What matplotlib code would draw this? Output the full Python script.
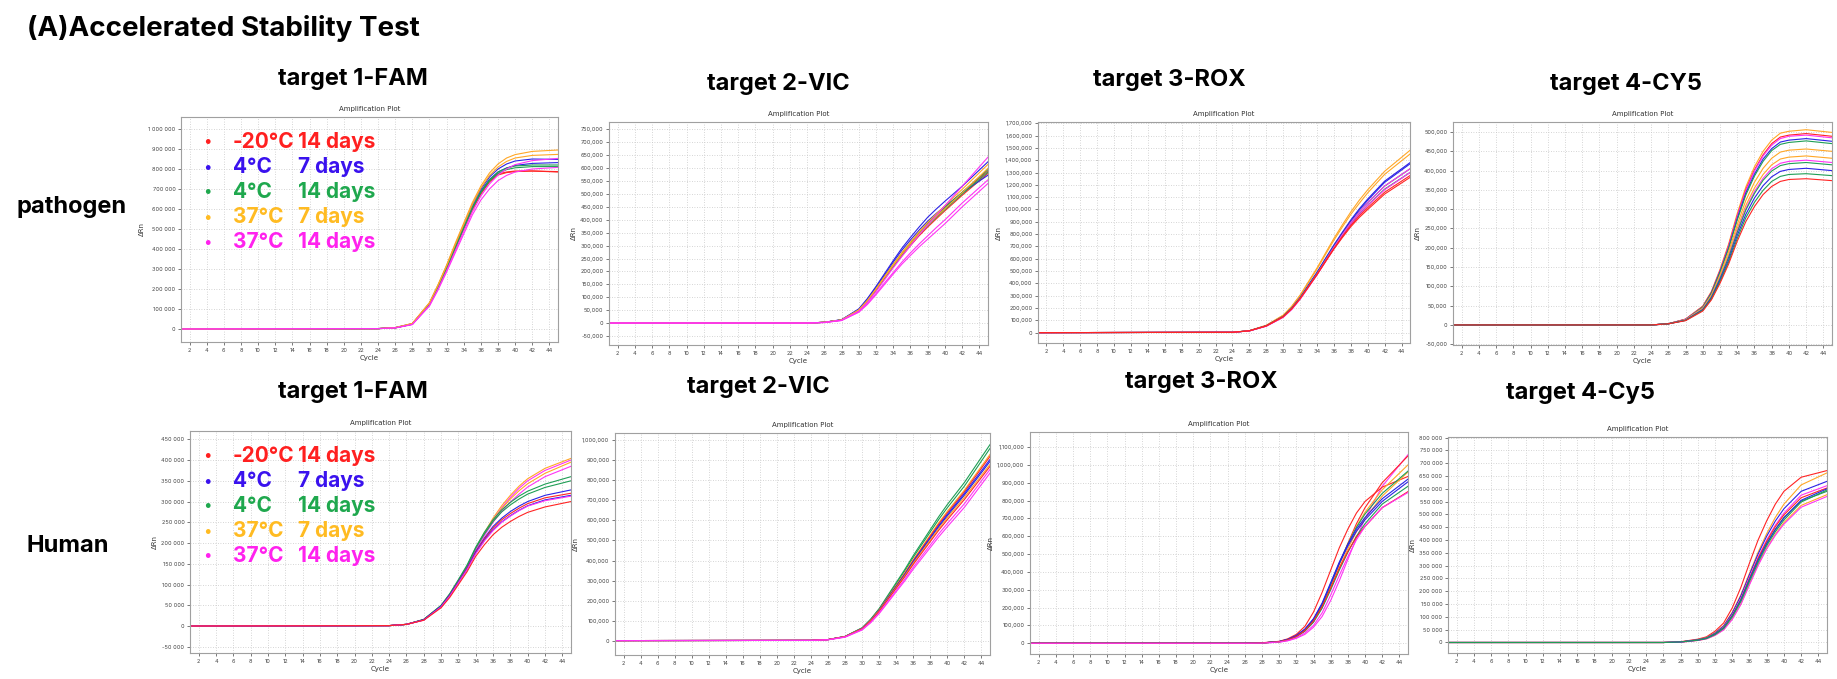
import matplotlib
matplotlib.use("Agg")
import matplotlib.pyplot as plt
from matplotlib.ticker import FuncFormatter, MultipleLocator

# ---- data: ΔRn in thousands ----
cycles = [1, 24, 26, 28, 30, 31, 32, 33, 34, 35, 36, 37, 38, 39, 40, 42, 45]

temps = ['-20°C', '4°C', '4°C', '37°C', '37°C']
durations = ['14 days', '7 days', '14 days', '7 days', '14 days']

# pathogen - target 1-FAM
path_fam_cond = [0, 0, 1, 1, 2, 2, 3, 3, 4, 4]
path_fam = [
    [0, 2, 6, 25, 125, 210, 305, 405, 505, 600, 680, 740, 775, 785, 790, 790, 785],
    [0, 2, 6, 24, 122, 205, 300, 400, 500, 595, 675, 735, 770, 782, 787, 790, 787],
    [0, 2, 7, 27, 130, 218, 315, 420, 520, 620, 700, 760, 800, 825, 840, 850, 848],
    [0, 2, 6, 25, 126, 212, 308, 410, 510, 610, 690, 748, 785, 805, 818, 828, 832],
    [0, 2, 6, 25, 125, 210, 305, 408, 508, 606, 686, 745, 785, 805, 815, 820, 820],
    [0, 2, 6, 24, 123, 207, 302, 404, 504, 602, 682, 740, 778, 797, 806, 812, 812],
    [0, 2, 7, 28, 132, 222, 320, 428, 530, 632, 715, 780, 825, 855, 872, 888, 895],
    [0, 2, 7, 27, 130, 218, 315, 420, 522, 622, 705, 768, 810, 838, 855, 868, 873],
    [0, 2, 6, 23, 118, 200, 292, 390, 488, 585, 665, 725, 770, 800, 822, 842, 853],
    [0, 2, 5, 22, 115, 195, 285, 380, 475, 570, 645, 700, 742, 768, 785, 800, 808],
]

# pathogen - target 2-VIC
path_vic_cond = [0, 0, 1, 1, 2, 2, 3, 3, 4, 4, 4]
path_vic = [
    [0, 0, 3, 12, 50, 86, 130, 178, 222, 265, 305, 345, 380, 413, 445, 505, 590],
    [0, 0, 3, 12, 48, 84, 127, 174, 218, 260, 300, 338, 372, 404, 435, 495, 580],
    [0, 0, 3, 13, 55, 95, 142, 192, 242, 290, 332, 372, 410, 442, 472, 530, 625],
    [0, 0, 3, 13, 53, 92, 138, 186, 236, 282, 322, 360, 395, 425, 452, 505, 573],
    [0, 0, 3, 12, 50, 87, 131, 179, 226, 270, 311, 350, 386, 418, 448, 507, 595],
    [0, 0, 3, 12, 49, 85, 128, 175, 220, 264, 305, 343, 378, 410, 440, 500, 585],
    [0, 0, 3, 12, 51, 88, 133, 181, 228, 273, 314, 354, 390, 423, 455, 518, 615],
    [0, 0, 3, 12, 50, 86, 130, 177, 223, 267, 307, 346, 381, 413, 443, 505, 600],
    [0, 0, 3, 11, 46, 80, 122, 168, 214, 258, 300, 342, 380, 417, 455, 530, 643],
    [0, 0, 2, 10, 42, 72, 110, 150, 190, 228, 262, 295, 325, 355, 385, 450, 541],
    [0, 0, 2, 10, 43, 75, 114, 156, 196, 236, 272, 306, 338, 370, 400, 465, 555],
]

# pathogen - target 3-ROX
path_rox_cond = [3, 3, 1, 1, 2, 2, 4, 4, 0, 0]
path_rox = [
    [0, 3, 16, 60, 142, 213, 305, 415, 525, 645, 765, 875, 980, 1075, 1160, 1310, 1480],
    [0, 3, 16, 59, 140, 210, 300, 408, 516, 634, 750, 858, 960, 1050, 1135, 1285, 1450],
    [0, 3, 15, 56, 132, 198, 285, 388, 490, 602, 712, 815, 915, 1005, 1085, 1230, 1380],
    [0, 3, 15, 55, 131, 196, 282, 384, 486, 597, 706, 808, 905, 995, 1075, 1220, 1370],
    [0, 3, 15, 55, 130, 195, 280, 380, 480, 590, 698, 798, 895, 980, 1055, 1190, 1330],
    [0, 3, 15, 54, 128, 192, 276, 375, 474, 582, 688, 786, 880, 962, 1035, 1165, 1300],
    [0, 3, 14, 53, 126, 190, 274, 374, 476, 586, 694, 796, 893, 978, 1055, 1190, 1330],
    [0, 3, 14, 52, 124, 187, 270, 368, 468, 576, 682, 780, 875, 958, 1032, 1160, 1300],
    [0, 3, 15, 55, 130, 194, 278, 376, 474, 580, 684, 780, 870, 948, 1015, 1140, 1275],
    [0, 3, 15, 54, 128, 192, 275, 372, 470, 575, 678, 772, 860, 935, 1000, 1125, 1260],
]

# pathogen - target 4-CY5
path_cy5_cond = [3, 0, 4, 1, 2, 3, 3, 4, 2, 1, 2, 0]
path_cy5 = [
    [0, 0, 3, 15, 49, 87, 144, 210, 289, 358, 410, 450, 479, 497, 502, 506, 499],
    [0, 0, 3, 15, 48, 85, 141, 206, 283, 351, 402, 441, 470, 487, 492, 496, 489],
    [0, 0, 3, 15, 47, 84, 140, 204, 281, 348, 399, 438, 466, 483, 489, 492, 485],
    [0, 0, 3, 14, 46, 83, 138, 200, 276, 342, 391, 430, 457, 474, 479, 483, 476],
    [0, 0, 3, 14, 46, 82, 136, 198, 272, 337, 386, 424, 452, 468, 473, 477, 470],
    [0, 0, 3, 14, 44, 78, 130, 190, 260, 323, 370, 406, 432, 448, 453, 456, 450],
    [0, 0, 3, 13, 42, 75, 125, 182, 250, 310, 355, 390, 415, 430, 435, 438, 432],
    [0, 0, 3, 13, 41, 73, 122, 177, 244, 302, 346, 380, 405, 419, 424, 427, 421],
    [0, 0, 3, 12, 40, 72, 120, 175, 240, 298, 341, 375, 399, 413, 418, 421, 415],
    [0, 0, 3, 12, 39, 69, 116, 168, 232, 287, 329, 361, 384, 398, 403, 406, 400],
    [0, 0, 3, 12, 38, 67, 112, 163, 224, 278, 318, 349, 372, 385, 390, 392, 387],
    [0, 0, 3, 11, 36, 65, 108, 158, 217, 268, 307, 338, 359, 372, 377, 379, 374],
]

# Human - target 1-FAM
hum_fam_cond = [3, 4, 3, 4, 2, 2, 1, 0, 1, 4, 0]
hum_fam = [
    [0, 1, 4, 15, 48, 75, 108, 142, 188, 225, 260, 290, 315, 337, 355, 380, 404],
    [0, 1, 4, 15, 48, 75, 108, 142, 186, 222, 256, 285, 310, 332, 350, 375, 400],
    [0, 1, 4, 15, 48, 75, 108, 142, 186, 222, 255, 283, 306, 326, 343, 368, 395],
    [0, 1, 4, 15, 47, 74, 107, 141, 184, 218, 250, 277, 299, 318, 335, 360, 385],
    [0, 1, 4, 16, 50, 78, 112, 147, 190, 226, 256, 280, 298, 313, 325, 342, 360],
    [0, 1, 4, 16, 49, 77, 110, 145, 188, 222, 252, 275, 292, 306, 318, 334, 350],
    [0, 1, 4, 15, 48, 75, 107, 140, 180, 212, 240, 260, 276, 289, 300, 315, 328],
    [0, 1, 4, 15, 47, 74, 106, 139, 178, 210, 236, 256, 271, 284, 295, 309, 320],
    [0, 1, 4, 15, 47, 73, 105, 137, 176, 207, 232, 251, 266, 279, 290, 304, 315],
    [0, 1, 4, 14, 46, 72, 104, 136, 174, 205, 230, 250, 265, 278, 289, 302, 313],
    [0, 1, 4, 14, 44, 69, 100, 131, 168, 196, 220, 238, 252, 264, 274, 287, 300],
]

# Human - target 2-VIC
hum_vic_cond = [2, 2, 3, 0, 1, 1, 3, 0, 4, 4]
hum_vic = [
    [0, 1, 5, 21, 64, 107, 160, 225, 290, 355, 425, 490, 555, 620, 680, 790, 979],
    [0, 1, 5, 21, 63, 105, 157, 220, 284, 348, 416, 480, 543, 606, 664, 772, 960],
    [0, 1, 5, 20, 61, 102, 153, 214, 276, 338, 404, 466, 528, 590, 646, 752, 930],
    [0, 1, 5, 20, 61, 101, 152, 212, 273, 334, 400, 461, 522, 583, 638, 744, 920],
    [0, 1, 5, 20, 60, 100, 150, 210, 270, 330, 395, 455, 515, 575, 630, 735, 905],
    [0, 1, 5, 20, 60, 100, 150, 209, 268, 328, 392, 451, 510, 569, 623, 727, 895],
    [0, 1, 5, 20, 59, 99, 148, 206, 265, 324, 387, 445, 503, 561, 614, 716, 880],
    [0, 1, 5, 19, 58, 97, 146, 203, 261, 319, 381, 438, 495, 552, 604, 705, 870],
    [0, 1, 4, 18, 55, 92, 139, 195, 251, 307, 367, 423, 478, 534, 585, 684, 855],
    [0, 1, 4, 17, 53, 89, 135, 189, 244, 298, 357, 411, 465, 519, 569, 666, 837],
]

# Human - target 3-ROX
hum_rox_cond = [4, 0, 0, 3, 3, 2, 1, 1, 2, 0, 4]
hum_rox = [
    [0, 0, 0, 1, 6, 14, 28, 50, 90, 150, 240, 350, 470, 590, 700, 880, 1057],
    [0, 0, 0, 2, 9, 21, 40, 70, 125, 210, 325, 445, 560, 670, 760, 900, 1050],
    [0, 0, 0, 3, 11, 25, 50, 95, 175, 285, 410, 535, 640, 730, 795, 875, 935],
    [0, 0, 0, 2, 9, 20, 40, 74, 128, 212, 325, 445, 555, 655, 735, 860, 1000],
    [0, 0, 0, 2, 9, 19, 38, 70, 122, 203, 310, 425, 530, 625, 700, 825, 960],
    [0, 0, 0, 2, 9, 20, 40, 75, 130, 215, 330, 448, 556, 650, 725, 840, 965],
    [0, 0, 0, 2, 10, 22, 44, 80, 138, 225, 340, 455, 555, 640, 705, 810, 920],
    [0, 0, 0, 2, 10, 21, 42, 78, 135, 220, 333, 446, 545, 628, 692, 795, 905],
    [0, 0, 0, 2, 8, 18, 36, 68, 118, 196, 300, 410, 510, 600, 670, 780, 880],
    [0, 0, 0, 2, 9, 19, 38, 72, 125, 205, 310, 420, 515, 595, 655, 760, 850],
    [0, 0, 0, 1, 7, 15, 30, 58, 100, 170, 270, 380, 485, 580, 655, 760, 845],
]

# Human - target 4-Cy5
hum_cy5_cond = [0, 3, 1, 4, 0, 2, 3, 4, 1, 2]
hum_cy5 = [
    [0, 0, 0, 3, 13, 22, 44, 76, 135, 215, 310, 400, 475, 540, 590, 645, 671],
    [0, 0, 0, 2, 11, 19, 38, 66, 118, 186, 270, 352, 425, 488, 540, 615, 662],
    [0, 0, 0, 2, 11, 18, 37, 64, 115, 182, 265, 345, 415, 474, 522, 590, 629],
    [0, 0, 0, 2, 10, 17, 35, 60, 108, 172, 255, 333, 400, 458, 505, 575, 612],
    [0, 0, 0, 2, 10, 17, 34, 58, 105, 168, 250, 328, 395, 452, 498, 565, 603],
    [0, 0, 0, 2, 10, 17, 34, 58, 104, 166, 246, 322, 387, 442, 488, 552, 590],
    [0, 0, 0, 1, 8, 14, 28, 50, 92, 150, 228, 304, 368, 422, 468, 535, 577],
    [0, 0, 0, 1, 8, 14, 28, 49, 90, 148, 225, 300, 365, 418, 462, 528, 570],
    [0, 0, 0, 2, 9, 16, 32, 56, 102, 164, 244, 320, 385, 440, 486, 555, 600],
    [0, 0, 0, 2, 9, 16, 31, 55, 100, 160, 238, 312, 378, 432, 478, 548, 595],
]

# ---- styles ----
line_colors = ['#ff2424', '#2b22e6', '#1f9e55', '#ffa726', '#ff33f5']
text_colors = ['#ff2020', '#3a12ee', '#1fa84e', '#ffbb22', '#ff22ee']

W, H = 1837, 679
fig = plt.figure(figsize=(W / 100, H / 100), dpi=100)
plt.rcParams['font.family'] = ['Inter', 'DejaVu Sans']


def px(x, y):
    return x / W, 1 - y / H


def add_axes(l, r, t, b):
    return fig.add_axes([l / W, 1 - b / H, (r - l) / W, (b - t) / H])


def sep_fmt(sep):
    return FuncFormatter(lambda v, p: f'{int(round(v)):,}'.replace(',', sep))


# panel: data, conditions, axes box (px), ylim, y step, separator, title, title pos
panels = [
    (path_fam, path_fam_cond, (181, 558, 117, 342), (-65e3, 1060e3), 100e3, ' ',
     'target 1-FAM', (353, 79), True),
    (path_vic, path_vic_cond, (609, 988, 122, 345), (-85e3, 779e3), 50e3, ',',
     'target 2-VIC', (778, 84), False),
    (path_rox, path_rox_cond, (1038, 1410, 122, 343), (-84e3, 1710e3), 100e3, ',',
     'target 3-ROX', (1169, 80), False),
    (path_cy5, path_cy5_cond, (1453, 1832, 122, 345), (-52e3, 526e3), 50e3, ',',
     'target 4-CY5', (1626, 84), False),
    (hum_fam, hum_fam_cond, (190, 571, 431, 653), (-65e3, 470e3), 50e3, ' ',
     'target 1-FAM', (353, 392), True),
    (hum_vic, hum_vic_cond, (615, 990, 433, 655), (-72e3, 1037e3), 100e3, ',',
     'target 2-VIC', (758, 387), False),
    (hum_rox, hum_rox_cond, (1030, 1408, 432, 654), (-60e3, 1184e3), 100e3, ',',
     'target 3-ROX', (1201, 382), False),
    (hum_cy5, hum_cy5_cond, (1448, 1827, 437, 653), (-41e3, 802e3), 50e3, ' ',
     'target 4-Cy5', (1581, 393), False),
]

for curves, cond, box, ylim, ystep, sep, title, tpos, legend in panels:
    ax = add_axes(*box)
    for vals, c in zip(curves, cond):
        ax.plot(cycles, [v * 1000 for v in vals], color=line_colors[c], lw=0.8)
    ax.set_xlim(1, 45)
    ax.set_ylim(*ylim)
    ax.yaxis.set_major_locator(MultipleLocator(ystep))
    ax.yaxis.set_major_formatter(sep_fmt(sep))
    ax.set_xticks(range(2, 46, 2))
    ax.tick_params(labelsize=4, length=2, width=0.5, colors='#444444', pad=2)
    ax.grid(True, linestyle=(0, (1, 2)), color='#c8c8c8', lw=0.6)
    for s in ax.spines.values():
        s.set_color('#a0a0a0')
        s.set_linewidth(0.8)
    ax.set_title('Amplification Plot', fontsize=5, pad=4, color='#333333',
                 family='DejaVu Sans')
    ax.set_xlabel('Cycle', fontsize=5, labelpad=2, color='#333333', family='DejaVu Sans')
    ax.set_ylabel('ΔRn', fontsize=5, labelpad=2, color='#333333', family='DejaVu Sans')
    fig.text(*px(*tpos), title, fontsize=17, fontweight='bold', ha='center', va='center')

    if legend:
        y0 = box[2] + 25
        for i in range(5):
            y = y0 + i * 25
            fig.text(*px(207, y), '•', fontsize=11, color=text_colors[i],
                     ha='center', va='center')
            fig.text(*px(233, y), temps[i], fontsize=15, fontweight='bold',
                     color=text_colors[i], ha='left', va='center')
            fig.text(*px(298, y), durations[i], fontsize=15, fontweight='bold',
                     color=text_colors[i], ha='left', va='center')

fig.text(*px(27, 28), '(A)Accelerated Stability Test', fontsize=20, fontweight='bold',
         ha='left', va='center')
fig.text(*px(16, 213), 'pathogen', fontsize=17, fontweight='bold', ha='left', va='baseline')
fig.text(*px(27, 552), 'Human', fontsize=17, fontweight='bold', ha='left', va='baseline')

fig.savefig('out.png', dpi=100)
